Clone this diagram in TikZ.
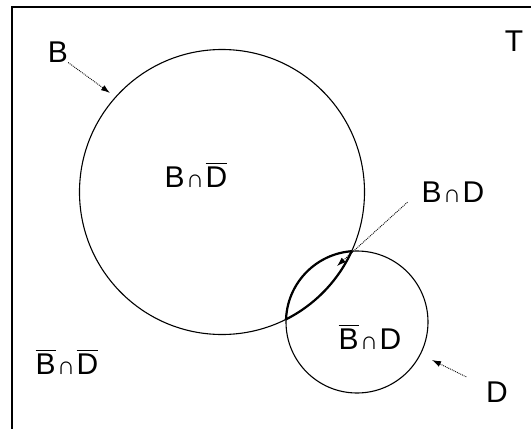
\documentclass[tikz,border=0pt]{standalone}
\usepackage{fontspec}
\setmainfont{Liberation Sans}
\usetikzlibrary{arrows.meta}
\newcommand\ovl[1]{\leavevmode\vbox{\hrule height 1.2pt\kern 2.6pt\hbox{#1}}}
\newcommand\capp{\kern 1.5pt{\fontsize{25}{28}\selectfont ∩}\kern 1.5pt}
\tikzset{
  lbl/.style={font=\fontsize{30}{34}\selectfont, inner sep=0pt},
  setc/.style={circle, draw, line width=1.1pt, inner sep=0pt},
  ptr/.style={densely dotted, line width=0.9pt, -{Latex[length=9pt,width=6pt]}},
}
\begin{document}
\begin{tikzpicture}[x=1pt,y=-1pt]
\clip (0,0) rectangle (531,429);
\fill[white] (0,0) rectangle (531,429);
\draw[line width=1.1pt] (12,445) -- (12,7) -- (545,7);
\node[setc, minimum size=285pt] (B) at (222,192) {};
\node[setc, minimum size=142pt] (D) at (357,322) {};
\begin{scope}
  \clip (357,322) circle[radius=71];
  \draw[line width=2.2pt] (222,192) circle[radius=142.5];
\end{scope}
\begin{scope}
  \clip (222,192) circle[radius=142.5];
  \draw[line width=2.2pt] (357,322) circle[radius=71];
\end{scope}
\node[lbl] (T) at (514,41) {T};
\node[lbl] (lB) at (58,52) {B};
\node[lbl] (lD) at (497,392) {D};
\node[lbl, anchor=base] (BnotD) at (196,187) {B\capp\ovl{D}};
\node[lbl, anchor=base] (BD) at (453,202) {B\capp D};
\node[lbl, anchor=base] (notBD) at (370,349) {\ovl{B}\capp D};
\node[lbl, anchor=base] (notBnotD) at (67,374) {\ovl{B}\capp\ovl{D}};
\coordinate (bTip) at (110,93);
\coordinate (dTip) at (432,360);
\coordinate (lensTip) at (337,266);
\draw[ptr] (lB.south east) -- (bTip);
\draw[ptr, shorten <=22pt] (lD) -- (dTip);
\draw[ptr] ([xshift=-14pt]BD.south west) -- (lensTip);
\end{tikzpicture}
\end{document}
